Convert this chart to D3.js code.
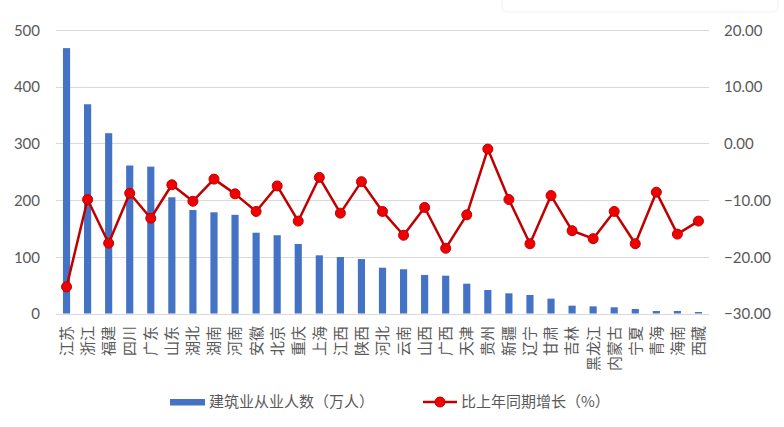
<!DOCTYPE html>
<html><head><meta charset="utf-8">
<script src="https://cdn.jsdelivr.net/npm/d3@7"></script>
<style>body{margin:0;background:#fff}svg{display:block}text{font-family:"Microsoft YaHei","Noto Sans CJK SC",sans-serif;fill:#595959}.num{font-family:Lato,"Open Sans",sans-serif}</style>
</head><body><svg id="c" width="784" height="427"></svg>
<script>
const categories = ["江苏","浙江","福建","四川","广东","山东","湖北","湖南","河南","安徽","北京","重庆","上海","江西","陕西","河北","云南","山西","广西","天津","贵州","新疆","辽宁","甘肃","吉林","黑龙江","内蒙古","宁夏","青海","海南","西藏"];
const workers = [468,369,318,261,259,205,182.5,178.5,174,142.5,138,122.6,102.6,99.6,96,80.8,78,68,66.7,52.6,41.4,35.6,32.6,26.2,13.8,12.6,10.9,7.9,4.4,4.4,2.6];
const growth = [-25.3,-9.9,-17.6,-8.8,-13.2,-7.3,-10.2,-6.3,-8.9,-12.0,-7.5,-13.7,-6.0,-12.3,-6.75,-12.0,-16.2,-11.3,-18.5,-12.6,-1.0,-9.9,-17.7,-9.2,-15.4,-16.8,-12.0,-17.7,-8.6,-16.0,-13.7];
const leftTicks = [0,100,200,300,400,500];
const rightTicks = [-30,-20,-10,0,10,20];
const seriesNames = ["建筑业从业人数（万人）","比上年同期增长（%）"];

const svg = d3.select("#c");
const L = 56, R = 709, T = 30, B = 313.5;
const x = d3.scaleBand().domain(categories).range([L, R]).paddingInner(0.66).paddingOuter(0.33);
const yL = d3.scaleLinear().domain([0, 500]).range([B, T]);
const yR = d3.scaleLinear().domain([-30, 20]).range([B, T]);

// faint top-right artifact box
svg.append("rect").attr("x", 502).attr("y", -10).attr("width", 276).attr("height", 22).attr("rx", 5)
  .attr("fill", "#fff").attr("stroke", "#f6f6f6").attr("stroke-width", 1.5);

// grid
const grid = svg.append("g");
grid.selectAll("line").data(leftTicks).join("line")
  .attr("x1", L).attr("x2", R).attr("y1", d => Math.round(yL(d)) + 0.5).attr("y2", d => Math.round(yL(d)) + 0.5)
  .attr("stroke", "#D9D9D9").attr("stroke-width", 1);

// left axis
const ga = svg.append("g").attr("transform", `translate(${L - 16},0)`)
  .call(d3.axisLeft(yL).tickValues(leftTicks).tickSize(0).tickPadding(0));
ga.select(".domain").remove();
ga.selectAll("text").attr("class", "num").style("font-size", "15px").attr("fill", "#595959").attr("dy", "0.35em");

// right axis
const gr = svg.append("g").attr("transform", `translate(${R + 15},0)`)
  .call(d3.axisRight(yR).tickValues(rightTicks).tickSize(0).tickPadding(0).tickFormat(d3.format(".2f")));
gr.select(".domain").remove();
gr.selectAll("text").attr("class", "num").style("font-size", "15px").attr("fill", "#595959").attr("dy", "0.35em");

// bars
svg.append("g").selectAll("rect").data(categories).join("rect")
  .attr("x", d => x(d)).attr("width", x.bandwidth())
  .attr("y", (d, i) => yL(workers[i])).attr("height", (d, i) => B - yL(workers[i]))
  .attr("fill", "#4472C4");

// category labels
svg.append("g").selectAll("text").data(categories).join("text")
  .attr("transform", d => `translate(${x(d) + x.bandwidth() / 2},326) rotate(-90)`)
  .attr("text-anchor", "end").attr("dy", "0.36em")
  .style("font-size", "15px").text(d => d);

// line
const pts = categories.map((c, i) => [x(c) + x.bandwidth() / 2, yR(growth[i])]);
svg.append("path").attr("d", d3.line()(pts)).attr("fill", "none")
  .attr("stroke", "#C00000").attr("stroke-width", 2.5).attr("stroke-linejoin", "round");
svg.append("g").selectAll("circle").data(pts).join("circle")
  .attr("cx", d => d[0]).attr("cy", d => d[1]).attr("r", 5)
  .attr("fill", "#F00000").attr("stroke", "#C00000").attr("stroke-width", 1);

// legend
const lg = svg.append("g");
lg.append("rect").attr("x", 170).attr("y", 399).attr("width", 35).attr("height", 6.5).attr("fill", "#4472C4");
lg.append("text").attr("x", 209).attr("y", 402).attr("dy", "0.36em").style("font-size", "15px").text(seriesNames[0]);
lg.append("line").attr("x1", 423).attr("x2", 457).attr("y1", 402).attr("y2", 402).attr("stroke", "#C00000").attr("stroke-width", 2.5);
lg.append("circle").attr("cx", 440).attr("cy", 402).attr("r", 5).attr("fill", "#F00000").attr("stroke", "#C00000");
lg.append("text").attr("x", 461).attr("y", 402).attr("dy", "0.36em").style("font-size", "15px").text(seriesNames[1]);
</script></body></html>
